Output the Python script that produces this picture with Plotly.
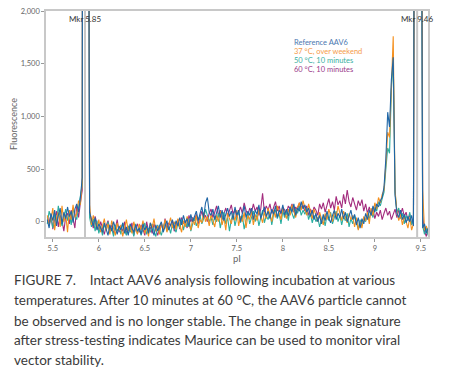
import numpy as np
import plotly.graph_objects as go

# pI sampling grid (5.44 .. 9.58, step 0.02)
pI = np.round(5.44 + 0.02 * np.arange(208), 2)

ref_aav6 = [
    20, -60, 80, 10, 110, -40, 60, 130, -20, 90,
    30, 140, 50, 100, -10, 120, 170, 90, 230, 420,
    20000, 20000, 8000, 90, 20, -40, 40, -80, -20, -60,
    -100, -10, -70, -130, -30, -90, 0, -60, -120, -40,
    -80, -10, -110, -50, -130, -20, -70, -100, -30, -90,
    -60, -120, -20, -80, -40, -110, -10, -70, -130, -30,
    -90, -40, 0, -100, -50, 10, -80, -20, 20, -60,
    10, -40, 40, -30, 60, -10, 30, -50, 70, 0,
    50, 100, 10, 80, 140, 40, 180, 230, 90, 60,
    120, 20, 90, 150, 40, 110, 10, 80, 130, 50,
    100, 20, 140, 60, 110, 0, 90, 150, 40, 100,
    60, 130, 20, 110, 70, 160, 30, 90, 140, 50,
    100, 30, 120, 70, 150, 40, 110, 80, 160, 60,
    120, 50, 140, 90, 170, 60, 130, 100, 190, 120,
    160, 90, 130, 50, 110, 20, 80, 0, 60, -20,
    70, 10, 100, 30, -10, 60, 110, 20, 80, 40,
    120, 30, 90, 0, 60, 110, 20, 70, -30, 40,
    -60, 30, -20, 80, 20, 110, 60, 150, 90, 170,
    140, 200, 230, 330, 600, 1040, 900, 1350, 1560, 250,
    80, 40, 110, 20, 70, -10, 50, 0, 60, -40,
    8000, 20000, 20000, 6000, -60, -20, -110, -60,
]

c37_weekend = [
    60, -30, 20, 130, -80, 40, 90, -50, 150, 0,
    70, -100, 110, 20, 160, 40, 80, 200, 160, 380,
    20000, 20000, 9000, 160, -30, 60, 0, -70, 20, -100,
    -40, 30, -90, -20, -120, 10, -60, -130, -10, -80,
    -30, -140, -60, 20, -90, -40, -110, 0, -70, -120,
    -20, -80, 10, -110, -50, -140, -10, -60, 30, -90,
    -40, -120, -10, -70, 20, -100, -30, 40, -60, 0,
    -70, 30, -40, -100, 10, -50, 50, -20, -80, 30,
    -30, 60, -60, 20, -10, 90, 0, 50, -40, 70,
    10, -50, 60, 0, 100, -30, 40, -80, 80, 20,
    -20, 70, 10, 110, -40, 50, 0, 90, -60, 60,
    20, 100, -30, 70, 10, 120, 40, -10, 90, 30,
    130, 60, 0, 110, 40, 150, 80, 20, 130, 70,
    30, 120, 60, 160, 90, 40, 140, 180, 110, 200,
    130, 60, 170, 90, 30, 120, 50, 0, 90, 30,
    -30, 80, 20, 120, 60, 0, 100, 40, 150, 70,
    10, 100, 50, -10, 80, 20, 60, -50, 40, -80,
    0, -60, 50, 10, 90, -20, 130, 60, 180, 120,
    230, 180, 260, 300, 550, 850, 800, 1300, 1760, 300,
    100, 10, 70, -30, 50, 0, -60, 40, -80, -20,
    7000, 18000, 20000, 9000, 300, -80, -40, -100,
]

c50_10min = [
    -20, 100, 40, -60, 70, 0, 150, 30, -40, 60,
    120, 10, 80, -30, 130, 60, 20, 140, 250, 350,
    20000, 20000, 7000, 40, -50, 30, -90, 10, -110, -40,
    -130, -20, -80, 0, -100, -60, -140, -30, -90, -50,
    -120, -10, -80, -130, -40, -100, -60, -140, -20, -110,
    -50, -130, -70, -10, -120, -60, -100, -20, -90, -140,
    -30, -80, -130, -50, -10, -90, -40, -110, -20, -60,
    -100, -10, -60, 20, -80, 0, -50, 30, -90, -20,
    40, -40, 10, 60, -20, 30, 120, 70, 0, 40,
    -30, 50, 0, 80, -60, 30, 90, -20, 40, -90,
    20, 80, -40, 40, 100, -10, 60, -70, 30, 90,
    -20, 50, 100, 0, 70, -40, 40, 110, -10, 60,
    20, 90, -30, 70, 110, 30, 80, -20, 100, 40,
    90, 10, 130, 70, 30, 120, 80, 150, 60, 110,
    70, 130, 20, 80, -10, 60, 0, 40, -50, 20,
    50, -40, 60, 10, 90, -20, 40, 100, 0, 60,
    -30, 50, 10, 80, -50, 30, -20, 60, -10, -70,
    20, -40, 40, 0, 70, 30, 100, 40, 140, 100,
    190, 150, 220, 280, 500, 700, 650, 1250, 1540, 280,
    90, 130, 30, 80, -20, 60, 10, 90, -30, 20,
    8000, 20000, 20000, 5000, -40, -120, -60, -130,
]

c60_10min = [
    40, -10, 70, -70, 20, 100, -50, 60, 10, -90,
    50, 80, -20, 110, 30, -60, 150, 40, 180, 300,
    20000, 20000, 8000, 100, 10, -60, 50, -20, -90, 0,
    -70, -120, -40, 10, -80, -30, -110, -60, 20, -100,
    -50, -90, 0, -120, -40, -80, -10, -130, -60, -20,
    -100, -30, -70, -130, 0, -90, -50, -110, -20, -80,
    -130, -60, -20, -90, 30, -70, -10, -40, 10, -90,
    -30, 20, -70, 40, -20, 10, -60, 60, 0, 40,
    10, 70, -20, 40, 100, 30, 60, 0, 80, 120,
    40, 90, 150, 60, 110, 20, 80, 130, 50, 100,
    160, 70, 120, 40, 90, 140, 80, 180, 110, 60,
    130, 90, 170, 100, 140, 60, 120, 270, 90, 150,
    110, 170, 80, 130, 190, 100, 150, 70, 140, 110,
    80, 150, 120, 170, 90, 140, 110, 180, 130, 160,
    100, 150, 60, 120, 80, 140, 110, 60, 170, 120,
    180, 90, 150, 220, 130, 190, 110, 240, 160, 200,
    130, 260, 170, 300, 190, 140, 230, 160, 110, 200,
    150, 210, 100, 170, 80, 140, 60, 120, 30, 90,
    50, 110, 20, 80, 130, 60, 100, 20, 70, 120,
    40, 110, 70, 130, 50, 90, 10, 70, -20, 30,
    7000, 20000, 20000, 6000, 60, -90, -140, -70,
]

series_names = ["Reference AAV6", "37 \u00b0C, over weekend", "50 \u00b0C, 10 minutes", "60 \u00b0C, 10 minutes"]
series_values = [ref_aav6, c37_weekend, c50_10min, c60_10min]
line_colors = ["#1f66a6", "#f5901e", "#2aaea0", "#a32c7e"]
legend_colors = ["#4a78b0", "#f59b4a", "#3ab0a2", "#9a3a8a"]

markers = [5.85, 9.46]
marker_labels = ["Mkr 5.85", "Mkr 9.46"]

caption_lines = [
    "FIGURE 7.\u00a0\u00a0\u00a0\u00a0Intact AAV6 analysis following incubation at various",
    "temperatures. After 10 minutes at 60 \u00b0C, the AAV6 particle cannot",
    "be observed and is no longer stable. The change in peak signature",
    "after stress-testing indicates Maurice can be used to monitor viral",
    "vector stability.",
]

# layout geometry in pixels
W, H = 450, 375
L, R, T, B = 46, 428, 7, 237


def px_x(x):
    return (x - L) / (R - L)


def px_y(y):
    return (B - y) / (B - T)


fig = go.Figure()
for idx in [3, 2, 1, 0]:
    fig.add_trace(go.Scatter(
        x=pI, y=series_values[idx], mode="lines", name=series_names[idx],
        line=dict(color=line_colors[idx], width=1.1), showlegend=False,
        hoverinfo="skip",
    ))

for m in markers:
    fig.add_shape(type="line", xref="x", yref="paper", x0=m, x1=m, y0=0, y1=1,
                  line=dict(color="#c6c6c6", width=2), layer="below")

annotations = []
for m, lab in zip(markers, marker_labels):
    annotations.append(dict(x=m, xref="x", y=px_y(15), yref="paper", text=lab,
                            showarrow=False, xanchor="center", yanchor="middle",
                            font=dict(family="Lato", size=8, color="#333333")))

leg_y = [39, 48.3, 57.6, 67]
for name, col, yy in zip(series_names, legend_colors, leg_y):
    annotations.append(dict(x=px_x(292), xref="paper", y=px_y(yy), yref="paper", text=name,
                            showarrow=False, xanchor="left", yanchor="middle",
                            font=dict(family="Lato", size=7.5, color=col)))

cap_y = [281, 301.5, 322, 342, 362.5]
for line, yy in zip(caption_lines, cap_y):
    annotations.append(dict(x=px_x(12), xref="paper", y=px_y(yy), yref="paper", text=line,
                            showarrow=False, xanchor="left", yanchor="middle",
                            font=dict(family="Lato", size=13.5, color="#3a3a3a")))

fig.update_layout(
    width=W, height=H,
    margin=dict(l=L, r=W - R, t=T, b=H - B),
    paper_bgcolor="white", plot_bgcolor="white",
    showlegend=False,
    annotations=annotations,
    font=dict(family="Lato", color="#666666"),
    xaxis=dict(
        range=[5.426, 9.578], tickvals=[5.5, 6, 6.5, 7, 7.5, 8, 8.5, 9, 9.5],
        ticktext=["5.5", "6", "6.5", "7", "7.5", "8", "8.5", "9", "9.5"],
        showgrid=False, zeroline=False, showline=True, mirror=True,
        linecolor="#c8c8c8", linewidth=1.5, ticks="outside", ticklen=3,
        tickcolor="#999999", tickfont=dict(size=7.5, color="#666666"),
        title=dict(text="pI", font=dict(size=9.5, color="#666666"), standoff=2),
    ),
    yaxis=dict(
        range=[-145, 2000], tickvals=[0, 500, 1000, 1500, 2000],
        ticktext=["0", "500", "1,000", "1,500", "2,000"],
        showgrid=False, zeroline=False, showline=True, mirror=True,
        linecolor="#c8c8c8", linewidth=1.5, ticks="outside", ticklen=3,
        tickcolor="#999999", tickfont=dict(size=7.5, color="#666666"),
        title=dict(text="Fluorescence", font=dict(size=9, color="#666666"), standoff=1),
    ),
)

fig.write_html("out.html", config={"displayModeBar": False},
               post_script="document.body.style.margin='0';document.body.style.padding='0';")
